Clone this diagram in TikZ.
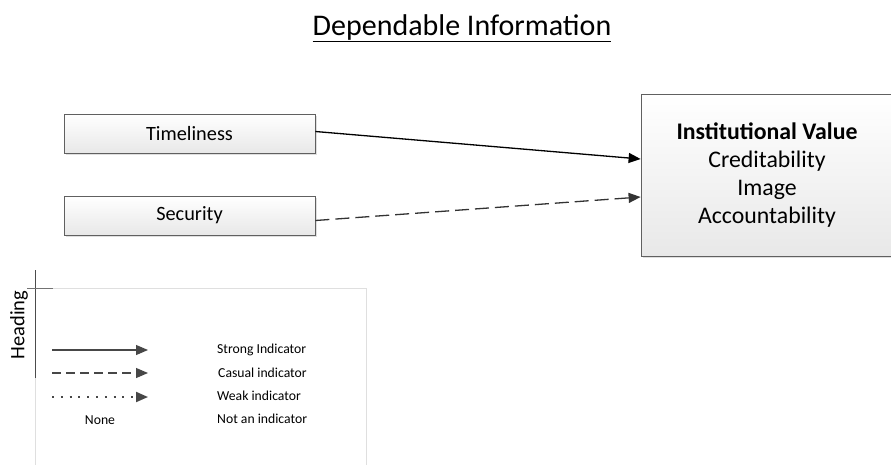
\documentclass[tikz,border=0pt]{standalone}
\usepackage{fontspec}
\setmainfont{Carlito}
\usetikzlibrary{arrows.meta,shadows}
\begin{document}
\begin{tikzpicture}[x=1pt,y=-1pt,
  factor/.style={draw=gray!75!black, line width=0.8pt, top color=white, bottom color=gray!18,
    minimum width=251pt, minimum height=39pt, inner sep=0pt, font=\fontsize{20.3}{24}\selectfont,
    drop shadow={shadow xshift=2pt, shadow yshift=-2pt, fill=gray!25, opacity=1}},
  strong/.style={line width=1.3pt, -{Triangle[length=12pt,width=10pt]}},
  casual/.style={line width=1.3pt, dash pattern=on 14pt off 6pt, draw=black!80, -{Triangle[length=12pt,width=10pt]}},
  legarrow/.style={line width=1.1pt, draw=black!72, -{Triangle[length=12pt,width=10pt]}},
  legtext/.style={anchor=west, font=\fontsize{13.7}{16}\selectfont, inner sep=0pt},
]
\useasboundingbox (0,0) rectangle (891,464);

% title
\node (title) at (462,28) {\fontsize{30}{36}\selectfont\underline{Dependable Information}};

% factor boxes
\node[factor] (time) at (189.5,133.5) {Timeliness};
\node[factor] (sec)  at (189.5,215.5) {Security};

% outcome box, running off the right edge
\begin{scope}
\clip (0,0) rectangle (891,464);
\node[factor, minimum width=252pt, minimum height=162pt, font=\fontsize{23.8}{28}\selectfont,
      align=center] (value) at (767,175)
  {\textbf{Institutional Value}\\Creditability\\Image\\Accountability};
\end{scope}

% indicators
\draw[strong] ([yshift=2pt]time.east) -- ([yshift=16pt]value.west);
\draw[casual] ([yshift=-5pt]sec.east) -- ([yshift=-22pt]value.west);

% legend frame
\node[rotate=90, font=\fontsize{20.5}{24}\selectfont, inner sep=0pt] (head) at (19,325) {Heading};
\coordinate (fr1) at (35,288);
\coordinate (fr2) at (366,470);
\draw[gray!25, line width=0.8pt] (fr1) rectangle (fr2);
\coordinate (vt) at (35,270);
\coordinate (vb) at (35,378);
\coordinate (hl) at (27,288);
\coordinate (hr) at (53,288);
\draw[black!70, line width=0.9pt] (vt) -- (vb);
\draw[black!55, line width=0.9pt] (hl) -- (hr);

% legend entries
\coordinate (s1) at (52,350); \coordinate (e1) at (148,350);
\coordinate (s2) at (52,373); \coordinate (e2) at (148,373);
\coordinate (s3) at (52,397); \coordinate (e3) at (148,397);
\draw[legarrow] (s1) -- (e1);
\draw[legarrow, dash pattern=on 9pt off 5pt] (s2) -- (e2);
\draw[legarrow, line width=2pt, dash pattern=on 2pt off 6.8pt] (s3) -- (e3);
\node[font=\fontsize{13.7}{16}\selectfont] (none) at (100,420) {None};

\node[legtext] (l1) at (217,350) {Strong Indicator};
\node[legtext] (l2) at (218,373) {Casual indicator};
\node[legtext] (l3) at (217,396) {Weak indicator};
\node[legtext] (l4) at (217,419) {Not an indicator};
\end{tikzpicture}
\end{document}
